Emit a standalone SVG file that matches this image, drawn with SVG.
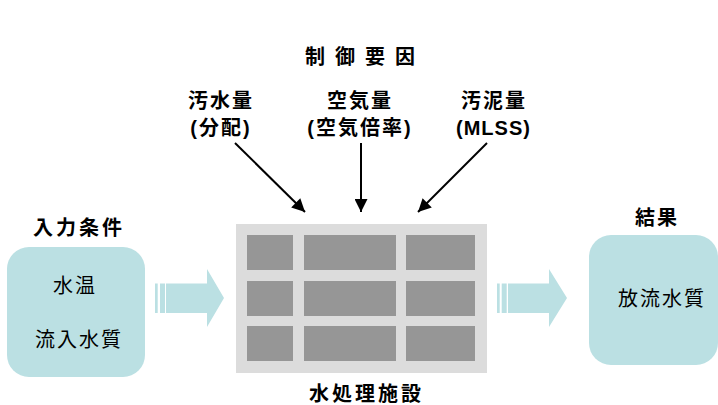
<svg xmlns="http://www.w3.org/2000/svg" width="718" height="405" viewBox="0 0 718 405">
<defs>
<style>
.t{font-family:"Liberation Sans","Noto Sans CJK JP",sans-serif;font-size:20px;fill:#000;text-anchor:middle}
.b{font-weight:bold}
.box{fill:#bbe0e3}
.cell{fill:#969696}
.ar{stroke:#000;stroke-width:2;fill:none;marker-end:url(#ah)}
.fat{fill:#bbe0e3}
</style>
<marker id="ah" viewBox="0 0 10 10" refX="10" refY="5" markerWidth="7.5" markerHeight="6.5" markerUnits="strokeWidth" orient="auto">
<path d="M0,0 L10,5 L0,10 z" fill="#000"/>
</marker>
</defs>
<rect width="718" height="405" fill="#fff"/>
<g id="title">
<text class="t b" x="365" y="64" letter-spacing="10">制御要因</text>
</g>
<g id="factor1">
<text class="t b" x="221" y="108" letter-spacing="2">汚水量</text>
<text class="t b" x="221" y="135" letter-spacing="2">(分配)</text>
</g>
<g id="factor2">
<text class="t b" x="360" y="108" letter-spacing="2">空気量</text>
<text class="t b" x="360" y="135" letter-spacing="2">(空気倍率)</text>
</g>
<g id="factor3">
<text class="t b" x="494" y="108" letter-spacing="2">汚泥量</text>
<text class="t b" x="493.5" y="135" letter-spacing="1">(MLSS)</text>
</g>
<g id="input">
<text class="t b" x="79" y="235" letter-spacing="3">入力条件</text>
<rect class="box" x="7" y="247" width="138" height="130" rx="22"/>
<text class="t" x="75" y="293" letter-spacing="2">水温</text>
<text class="t" x="79" y="347" letter-spacing="2">流入水質</text>
</g>
<g id="plant">
<rect x="236" y="224" width="251" height="149" fill="#dcdcdc"/>
<rect class="cell" x="247" y="235" width="46" height="35"/>
<rect class="cell" x="304" y="235" width="92" height="35"/>
<rect class="cell" x="406" y="235" width="69" height="35"/>
<rect class="cell" x="247" y="281" width="46" height="35"/>
<rect class="cell" x="304" y="281" width="92" height="35"/>
<rect class="cell" x="406" y="281" width="69" height="35"/>
<rect class="cell" x="247" y="326" width="46" height="35"/>
<rect class="cell" x="304" y="326" width="92" height="35"/>
<rect class="cell" x="406" y="326" width="69" height="35"/>
<text class="t b" x="366.5" y="401" letter-spacing="3">水処理施設</text>
</g>
<g id="output">
<text class="t b" x="657" y="225" letter-spacing="2">結果</text>
<rect class="box" x="589" y="235" width="129" height="130" rx="22"/>
<text class="t" x="662" y="306" letter-spacing="2">放流水質</text>
</g>
<g id="connectors">
<line class="ar" x1="235" y1="143" x2="305" y2="212"/>
<line class="ar" x1="361" y1="143" x2="361" y2="212"/>
<line class="ar" x1="487" y1="143" x2="418" y2="212"/>
<g id="flow-in">
<rect class="fat" x="155" y="283.5" width="2.7" height="29.5"/>
<rect class="fat" x="160" y="283.5" width="5" height="29.5"/>
<polygon class="fat" points="166,283.5 207,283.5 207,269 224,298 207,327 207,313 166,313"/>
</g>
<g id="flow-out">
<rect class="fat" x="497" y="283.5" width="2.7" height="29.5"/>
<rect class="fat" x="501.7" y="283.5" width="5" height="29.5"/>
<polygon class="fat" points="508,283.5 549,283.5 549,269 567,298 549,327 549,313 508,313"/>
</g>
</g>
</svg>
